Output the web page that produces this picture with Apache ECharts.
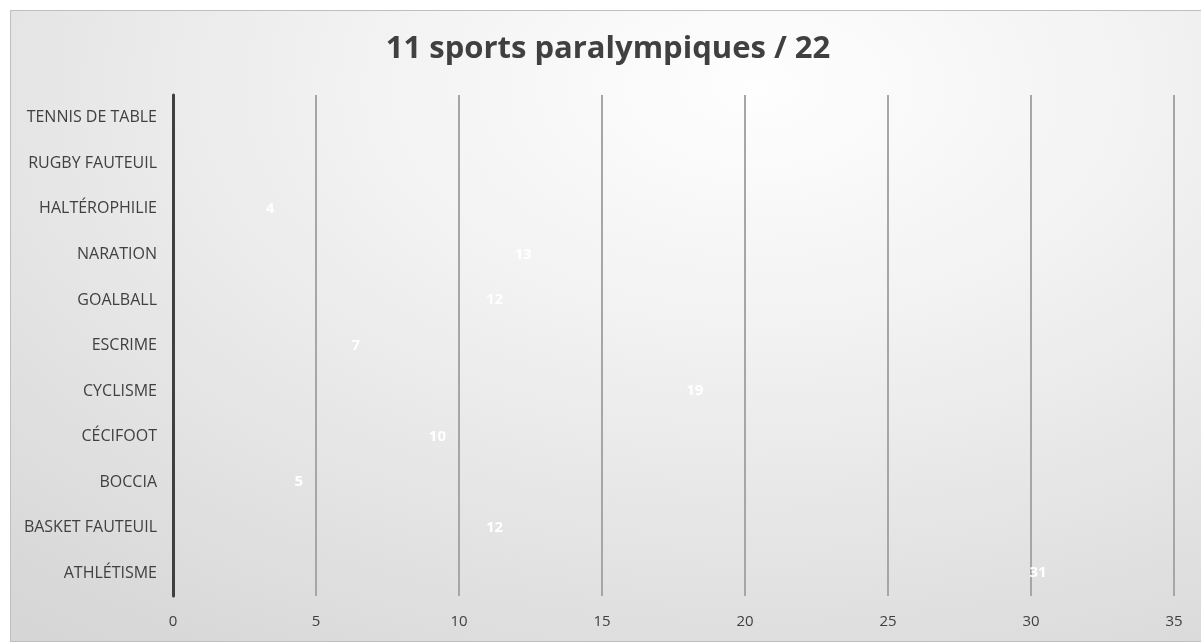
<!DOCTYPE html>
<html>
<head>
<meta charset="utf-8">
<script src="https://cdn.jsdelivr.net/npm/echarts@6/dist/echarts.min.js"></script>
<style>
  html, body { margin: 0; padding: 0; background: #ffffff; }
  #box {
    position: absolute; left: 10px; top: 10px; width: 1200px; height: 630px;
    border-top: 1px solid #bfbfbf; border-left: 1px solid #bfbfbf; border-bottom: 1px solid #bfbfbf;
    background: radial-gradient(ellipse 95% 110% at 62% 12%, #fefefe 0%, #f2f2f2 35%, #d6d6d6 100%);
  }
  #chart { position: absolute; left: 0; top: 0; width: 1201px; height: 644px; }
</style>
</head>
<body>
<div id="box"></div>
<div id="chart"></div>
<script>
const titleText = '11 sports paralympiques / 22';
const categories = ['ATHLÉTISME', 'BASKET FAUTEUIL', 'BOCCIA', 'CÉCIFOOT', 'CYCLISME', 'ESCRIME', 'GOALBALL', 'NARATION', 'HALTÉROPHILIE', 'RUGBY FAUTEUIL', 'TENNIS DE TABLE'];
const values = [31, 12, 5, 10, 19, 7, 12, 13, 4, null, null];
const xMin = 0, xMax = 35, xStep = 5;

const chart = echarts.init(document.getElementById('chart'), null, { renderer: 'canvas' });
chart.setOption({
  backgroundColor: 'transparent',
  animation: false,
  title: {
    text: titleText,
    left: 603, top: 29, textAlign: 'center',
    textStyle: { fontFamily: 'Open Sans', fontWeight: 'bold', fontSize: 31, color: '#404040' }
  },
  grid: { left: 173, right: 27, top: 95, bottom: 48, containLabel: false },
  xAxis: {
    type: 'value', min: xMin, max: xMax, interval: xStep,
    axisLine: { show: false }, axisTick: { show: false },
    splitLine: { show: true, lineStyle: { color: '#a6a6a6', width: 2 } },
    axisLabel: { color: '#404040', fontFamily: 'Open Sans', fontSize: 15, margin: 18 }
  },
  yAxis: {
    type: 'category', data: categories,
    axisLine: { show: true, lineStyle: { color: '#3f3f3f', width: 3 } },
    axisTick: { show: false },
    axisLabel: { color: '#404040', fontFamily: 'Open Sans', fontSize: 16, margin: 16 }
  },
  series: [{
    type: 'bar', data: values, barWidth: '60%',
    itemStyle: { color: 'rgba(255,255,255,0)' },
    label: {
      show: true, position: 'insideRight', distance: 13,
      color: '#ffffff', fontWeight: 'bold', fontFamily: 'Open Sans', fontSize: 15
    }
  }]
});
</script>
</body>
</html>
